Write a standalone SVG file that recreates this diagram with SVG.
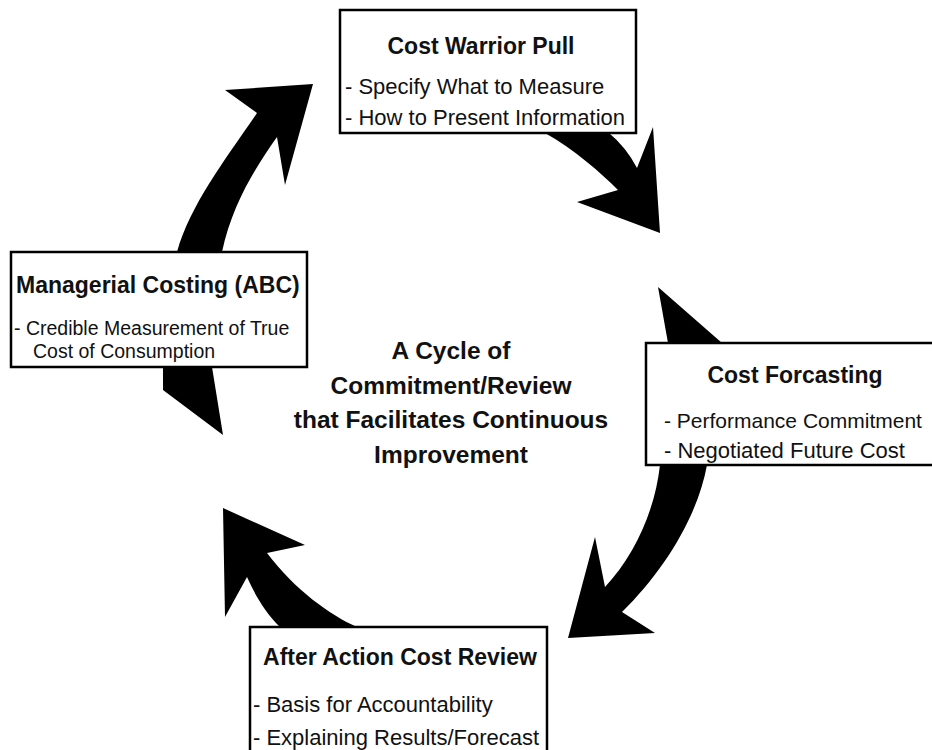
<svg xmlns="http://www.w3.org/2000/svg" width="932" height="750" viewBox="0 0 932 750">
<style>
.box{fill:#fff;stroke:#000;stroke-width:2.5}
.arrow{fill:#000;stroke:none}
.t{font-family:"Liberation Sans",Arial,sans-serif;font-weight:bold;font-size:23px;fill:#111}
.b{font-family:"Liberation Sans",Arial,sans-serif;font-size:22px;fill:#111}
.bs{font-family:"Liberation Sans",Arial,sans-serif;font-size:19.5px;fill:#111}
.c{font-family:"Liberation Sans",Arial,sans-serif;font-weight:bold;font-size:24.5px;fill:#111;text-anchor:middle}
</style>
<rect width="932" height="750" fill="#fff"/>
<g id="connectors">
<path class="arrow" d="M223,435 L163,390 L163,367 L170,300 L177,252 C190,205 225,160 257,113 L225,90 L313,84 L285,185 L277,137 C255,168 232,205 222,252 L215,300 L212,367 Z"/>
<path class="arrow" d="M545,133 L540,120 L600,120 L609,133 Q626,147 637,168 L653,127 L660,233 L577,202 L618,190 C600,172 575,150 545,133 Z"/>
<path class="arrow" d="M658,287 L722,343 L715,400 L707,465 C698,515 665,570 622,612 L655,633 L568,638 L595,537 L605,587 C635,555 655,510 660,465 L665,400 L668,343 Z"/>
<path class="arrow" d="M357,627 C330,615 295,590 267,553 L305,545 L223,508 L225,617 L247,577 C255,595 265,612 280,627 L300,650 L380,650 Z"/>
</g>
<g id="cost-forcasting">
<rect class="box" x="646" y="343" width="300" height="122"/>
<text class="t" x="795" y="383" text-anchor="middle">Cost Forcasting</text>
<text class="b" x="664" y="428" style="font-size:21px">- Performance Commitment</text>
<text class="b" x="664" y="458">- Negotiated Future Cost</text>
</g>
<g id="cost-warrior-pull">
<rect class="box" x="340" y="10" width="296" height="123"/>
<text class="t" x="481" y="54" text-anchor="middle">Cost Warrior Pull</text>
<text class="b" x="345" y="94">- Specify What to Measure</text>
<text class="b" x="345" y="125">- How to Present Information</text>
</g>
<g id="managerial-costing">
<rect class="box" x="11" y="252" width="296" height="115"/>
<text class="t" x="16" y="293">Managerial Costing (ABC)</text>
<text class="bs" x="14" y="335">- Credible Measurement of True</text>
<text class="bs" x="33" y="358">Cost of Consumption</text>
</g>
<g id="after-action-cost-review">
<rect class="box" x="250" y="627" width="297" height="140"/>
<text class="t" x="400" y="665" text-anchor="middle">After Action Cost Review</text>
<text class="b" x="253" y="712">- Basis for Accountability</text>
<text class="b" x="253" y="745">- Explaining Results/Forecast</text>
</g>
<g id="center-label">
<text class="c" x="451" y="359">A Cycle of</text>
<text class="c" x="451" y="394">Commitment/Review</text>
<text class="c" x="451" y="428">that Facilitates Continuous</text>
<text class="c" x="451" y="463">Improvement</text>
</g>
</svg>
